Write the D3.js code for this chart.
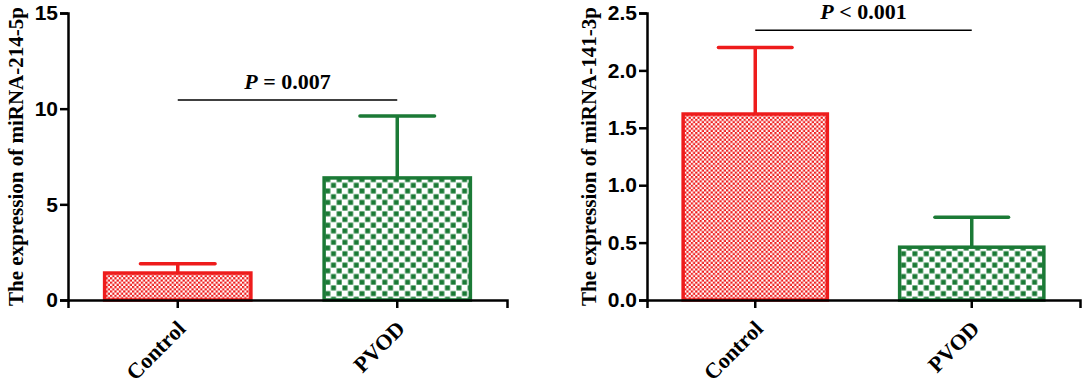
<!DOCTYPE html>
<html>
<head>
<meta charset="utf-8">
<script src="https://cdn.jsdelivr.net/npm/d3@7"></script>
<style>
  body { margin: 0; background: #fff; }
  svg { display: block; }
</style>
</head>
<body>
<div id="chart"></div>
<script>
const categories = ["Control", "PVOD"];

// miRNA-214-5p panel
const mir214Mean = [1.41, 6.38];
const mir214SD = [0.49, 3.24];
const mir214Ticks = [0, 5, 10, 15];

// miRNA-141-3p panel
const mir141Mean = [1.62, 0.46];
const mir141SD = [0.58, 0.26];
const mir141Ticks = [0, 0.5, 1.0, 1.5, 2.0, 2.5];

const panels = [
  {title: "The expression of miRNA-214-5p", mean: mir214Mean, sd: mir214SD, ticks: mir214Ticks,
   max: 15, fmt: d3.format("d"), x0: 68, x1: 507, titleX: 16, sigY: 10.45, op: "=", pval: "0.007"},
  {title: "The expression of miRNA-141-3p", mean: mir141Mean, sd: mir141SD, ticks: mir141Ticks,
   max: 2.5, fmt: d3.format(".1f"), x0: 647, x1: 1080, titleX: 589, sigY: 2.35, op: "<", pval: "0.001"}
];

const width = 1084, height = 385;
const yTop = 13, yBottom = 300;
const red = "#ee1c1c", green = "#1b7a36";

const svg = d3.select("#chart").append("svg")
    .attr("width", width)
    .attr("height", height);

const defs = svg.append("defs");

// fine red checkerboard
const pr = defs.append("pattern")
    .attr("id", "redCheck")
    .attr("patternUnits", "userSpaceOnUse")
    .attr("width", 4.4).attr("height", 4.4);
pr.append("rect").attr("width", 4.4).attr("height", 4.4).attr("fill", "#fff");
pr.append("rect").attr("width", 2.2).attr("height", 2.2).attr("fill", red);
pr.append("rect").attr("x", 2.2).attr("y", 2.2).attr("width", 2.2).attr("height", 2.2).attr("fill", red);

// coarse green checkerboard
const pg = defs.append("pattern")
    .attr("id", "greenCheck")
    .attr("patternUnits", "userSpaceOnUse")
    .attr("width", 11.4).attr("height", 11.4);
pg.append("rect").attr("width", 11.4).attr("height", 11.4).attr("fill", "#fff");
pg.append("rect").attr("x", 0.4).attr("y", 0.4).attr("width", 5).attr("height", 5).attr("fill", green);
pg.append("rect").attr("x", 6.1).attr("y", 6.1).attr("width", 5).attr("height", 5).attr("fill", green);

const colors = [red, green];
const fills = ["url(#redCheck)", "url(#greenCheck)"];

panels.forEach(p => {
  const g = svg.append("g");

  const x = d3.scaleBand()
      .domain(categories)
      .range([p.x0, p.x1])
      .paddingInner(0.32)
      .paddingOuter(0.16);

  const y = d3.scaleLinear()
      .domain([0, p.max])
      .range([yBottom, yTop]);

  // bars
  g.selectAll(".bar")
    .data(categories)
    .join("rect")
      .attr("x", d => x(d) + 1.5)
      .attr("y", (d, i) => y(p.mean[i]))
      .attr("width", x.bandwidth() - 3)
      .attr("height", (d, i) => yBottom - y(p.mean[i]))
      .attr("fill", (d, i) => fills[i])
      .attr("stroke", (d, i) => colors[i])
      .attr("stroke-width", 3.5);

  // error bars (upper only)
  const capHalf = x.bandwidth() / 4;
  categories.forEach((c, i) => {
    const cx = x(c) + x.bandwidth() / 2;
    g.append("line")
      .attr("x1", cx).attr("x2", cx)
      .attr("y1", y(p.mean[i]))
      .attr("y2", y(p.mean[i] + p.sd[i]))
      .attr("stroke", colors[i])
      .attr("stroke-width", 3.5);
    g.append("line")
      .attr("x1", cx - capHalf).attr("x2", cx + capHalf)
      .attr("y1", y(p.mean[i] + p.sd[i]))
      .attr("y2", y(p.mean[i] + p.sd[i]))
      .attr("stroke", colors[i])
      .attr("stroke-width", 3.5)
      .attr("stroke-linecap", "round");
  });

  // y axis
  const yAxis = g.append("g")
      .attr("transform", `translate(${p.x0},0)`)
      .call(d3.axisLeft(y).tickValues(p.ticks).tickFormat(p.fmt).tickSizeOuter(0).tickSize(8).tickPadding(2));
  yAxis.select(".domain").attr("stroke-width", 2.5);
  yAxis.selectAll(".tick line").attr("stroke-width", 2.5);
  yAxis.selectAll(".tick text")
      .attr("font-family", "Liberation Sans, Arial, sans-serif")
      .attr("font-weight", "bold")
      .attr("font-size", 21)
      .attr("fill", "#000");

  // x axis
  const xAxis = g.append("g")
      .attr("transform", `translate(0,${yBottom})`)
      .call(d3.axisBottom(x).tickSizeOuter(0).tickSize(8));
  xAxis.select(".domain").attr("stroke-width", 2.5);
  xAxis.selectAll(".tick line").attr("stroke-width", 2.5);
  xAxis.selectAll(".tick text")
      .attr("font-family", "Liberation Serif, Times New Roman, serif")
      .attr("font-weight", "bold")
      .attr("font-size", 22)
      .attr("fill", "#000")
      .attr("text-anchor", "end")
      .attr("dy", null)
      .attr("y", 0)
      .attr("transform", "translate(9,30) rotate(-45)");

  // y title
  g.append("text")
      .attr("transform", `translate(${p.titleX},${(yTop + yBottom) / 2}) rotate(-90)`)
      .attr("text-anchor", "middle")
      .attr("dy", "0.35em")
      .attr("font-family", "Liberation Serif, Times New Roman, serif")
      .attr("font-weight", "bold")
      .attr("font-size", 21)
      .text(p.title);

  // significance line
  const sx1 = x(categories[0]) + x.bandwidth() / 2;
  const sx2 = x(categories[1]) + x.bandwidth() / 2;
  g.append("line")
      .attr("x1", sx1).attr("x2", sx2)
      .attr("y1", y(p.sigY)).attr("y2", y(p.sigY))
      .attr("stroke", "#000")
      .attr("stroke-width", 1.5);

  const t = g.append("text")
      .attr("x", (sx1 + sx2) / 2)
      .attr("y", y(p.sigY) - 11)
      .attr("text-anchor", "middle")
      .attr("font-family", "Liberation Serif, Times New Roman, serif")
      .attr("font-weight", "bold")
      .attr("font-size", 22);
  t.append("tspan").attr("font-style", "italic").text("P");
  t.append("tspan").text(p.op === "=" ? " = " + p.pval : " <  " + p.pval);
});
</script>
</body>
</html>
